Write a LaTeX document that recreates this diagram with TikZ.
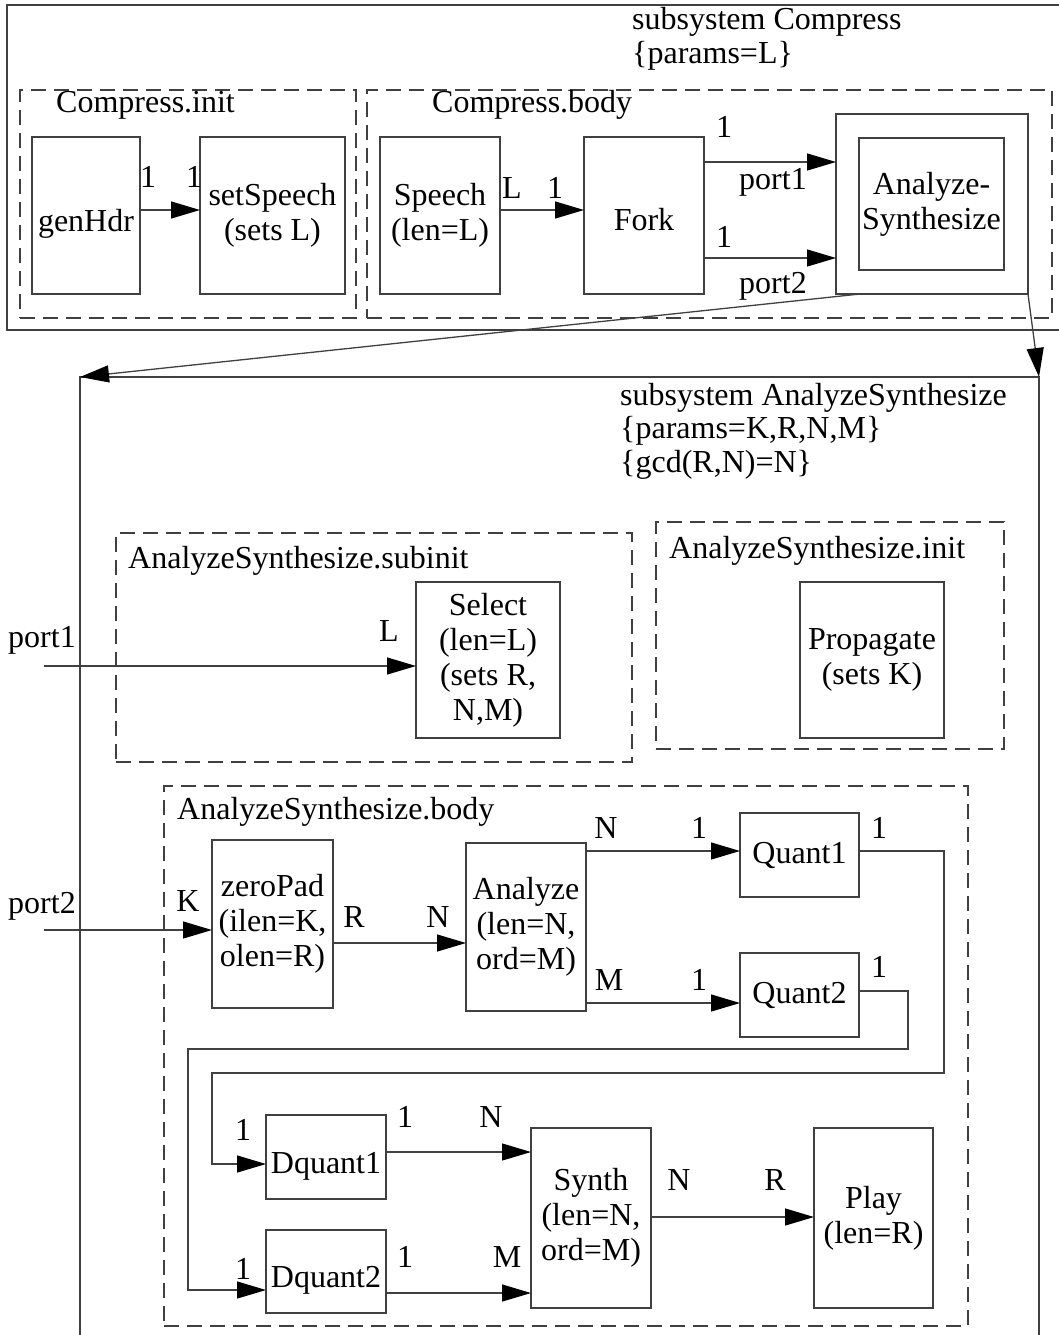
\documentclass[tikz,border=0pt]{standalone}
\usepackage{fontspec}
\setmainfont{Liberation Serif}
\usetikzlibrary{arrows.meta,fit}
\begin{document}
\begin{tikzpicture}[x=1pt,y=-1pt,
  every node/.style={font=\fontsize{32}{35}\selectfont},
  ln/.style={draw=black!75, line width=1.3pt},
  box/.style={ln, rectangle, inner sep=0pt, outer sep=0pt, align=center},
  sz/.style 2 args={minimum width=#1pt, minimum height=#2pt},
  grp/.style={draw=black!75, line width=1.3pt, dash pattern=on 15pt off 8pt, inner sep=0pt, outer sep=0pt, rectangle},
  arr/.style={ln, -{Triangle[length=29pt,width=17pt,color=black]}},
  lbl/.style={inner sep=0pt, anchor=base},
  ttl/.style={inner sep=0pt, anchor=base west}]
\useasboundingbox (0,0) rectangle (1058,1335);

% ---------- subsystem Compress ----------
\draw[ln] (1062,5) -- (7,5) -- (7,330) -- (1062,330);
\node[ttl] (tC1) at (632,30) {subsystem Compress};
\node[ttl] (tC2) at (632,64) {\{params=L\}};

\node[grp, fit={(20,90) (356,318)}] (cinit) {};
\node[ttl] (tci) at (56,113) {Compress.init};
\node[grp, fit={(367,90) (1052,318)}] (cbody) {};
\node[ttl] (tcb) at (432,113) {Compress.body};

\node[box, sz={108}{157}, text height=38pt, text depth=7pt] (genHdr) at (86,215.5) {genHdr};
\node[box, sz={145}{157}] (setSpeech) at (272.5,215.5) {setSpeech\\(sets L)};
\node[box, sz={120}{157}] (Speech) at (440,215.5) {Speech\\(len=L)};
\node[box, sz={120}{157}, text height=29pt, text depth=0pt] (Fork) at (644,215.5) {Fork};
\node[box, sz={192}{180}] (ASout) at (932,204) {};
\node[box, sz={145}{132}] (ASin) at (931.5,204) {Analyze-\\Synthesize};

\draw[arr] (genHdr.east |- 0,210) -- (setSpeech.west |- 0,210);
\draw[arr] (Speech.east |- 0,210) -- (Fork.west |- 0,210);
\draw[arr] (Fork.east |- 0,162) -- (ASout.west |- 0,162);
\draw[arr] (Fork.east |- 0,258) -- (ASout.west |- 0,258);

\node[lbl] (a1) at (148,187) {1};
\node[lbl] (a2) at (194,187) {1};
\node[lbl] (a3) at (512,198) {L};
\node[lbl] (a4) at (555,198) {1};
\node[lbl] (a5) at (724,138) {1};
\node[ttl] (a6) at (739,189) {port1};
\node[lbl] (a7) at (724,247) {1};
\node[ttl] (a8) at (739,293) {port2};

% ---------- subsystem AnalyzeSynthesize ----------
\draw[ln] (80,1340) -- (80,377) -- (1039,377) -- (1039,1340);
\coordinate (subTL) at (80,377);
\coordinate (subTR) at (1039,377);
\draw[arr] ([xshift=24pt]ASout.south west) -- (subTL);
\draw[arr] (ASout.south east) -- (subTR);

\node[ttl] (tA1) at (620,405) {subsystem AnalyzeSynthesize};
\node[ttl] (tA2) at (620,438) {\{params=K,R,N,M\}};
\node[ttl] (tA3) at (620,472) {\{gcd(R,N)=N\}};

% subinit
\node[grp, fit={(116,533) (632,762)}] (subinit) {};
\node[ttl] (tsi) at (128,568) {AnalyzeSynthesize.subinit};
\node[box, sz={144}{156}] (Select) at (488,660) {Select\\(len=L)\\(sets R,\\N,M)};
\coordinate (p1in) at (44,666);
\draw[arr] (p1in) -- (Select.west |- p1in);
\node[ttl] (tp1) at (8,647) {port1};
\node[lbl] (s1) at (389,641) {L};

% init
\node[grp, fit={(656,522) (1004,749)}] (ainit) {};
\node[ttl] (tai) at (669,558) {AnalyzeSynthesize.init};
\node[box, sz={144}{156}] (Propagate) at (872,660) {Propagate\\(sets K)};

% body
\node[grp, fit={(164,786) (968,1326)}] (abody) {};
\node[ttl] (tab) at (177,819) {AnalyzeSynthesize.body};
\node[box, sz={121}{168}] (zeroPad) at (272.5,924) {zeroPad\\(ilen=K,\\olen=R)};
\node[box, sz={120}{168}] (Analyze) at (526,927) {Analyze\\(len=N,\\ord=M)};
\node[box, sz={119}{84}] (Quant1) at (799.5,855) {Quant1};
\node[box, sz={119}{84}] (Quant2) at (799.5,995) {Quant2};
\node[box, sz={120}{84}, text height=40pt, text depth=7pt] (Dquant1) at (326,1157) {Dquant1};
\node[box, sz={120}{83}, text height=38pt, text depth=7pt] (Dquant2) at (326,1271.5) {Dquant2};
\node[box, sz={120}{180}] (Synth) at (591,1218) {Synth\\(len=N,\\ord=M)};
\node[box, sz={119}{180}] (Play) at (873.5,1218) {Play\\(len=R)};

\coordinate (p2in) at (44,930);
\draw[arr] (p2in) -- (zeroPad.west |- p2in);
\node[ttl] (tp2) at (8,913) {port2};
\node[lbl] (b1) at (188,911) {K};
\draw[arr] (zeroPad.east |- 0,943) -- (Analyze.west |- 0,943);
\node[lbl] (b2) at (354,927) {R};
\node[lbl] (b3) at (438,927) {N};
\draw[arr] (Analyze.east |- 0,851) -- (Quant1.west |- 0,851);
\node[lbl] (b4) at (606,838) {N};
\node[lbl] (b5) at (699,838) {1};
\draw[arr] (Analyze.east |- 0,1003) -- (Quant2.west |- 0,1003);
\node[lbl] (b6) at (609,990) {M};
\node[lbl] (b7) at (699,990) {1};
\node[lbl] (b8) at (879,838) {1};
\node[lbl] (b9) at (879,977) {1};
\draw[arr] (Quant1.east |- 0,851) -- (944,851) -- (944,1073) -- (212,1073) -- (212,1164) -- (Dquant1.west |- 0,1164);
\draw[arr] (Quant2.east |- 0,991) -- (908,991) -- (908,1049) -- (188,1049) -- (188,1290) -- (Dquant2.west |- 0,1290);
\node[lbl] (c1) at (243,1140) {1};
\node[lbl] (c2) at (243,1279) {1};
\draw[arr] (Dquant1.east |- 0,1152) -- (Synth.west |- 0,1152);
\draw[arr] (Dquant2.east |- 0,1293) -- (Synth.west |- 0,1293);
\node[lbl] (c3) at (405,1127) {1};
\node[lbl] (c4) at (491,1127) {N};
\node[lbl] (c5) at (405,1267) {1};
\node[lbl] (c6) at (507,1267) {M};
\draw[arr] (Synth.east |- 0,1217) -- (Play.west |- 0,1217);
\node[lbl] (c7) at (679,1190) {N};
\node[lbl] (c8) at (775,1190) {R};
\end{tikzpicture}
\end{document}
